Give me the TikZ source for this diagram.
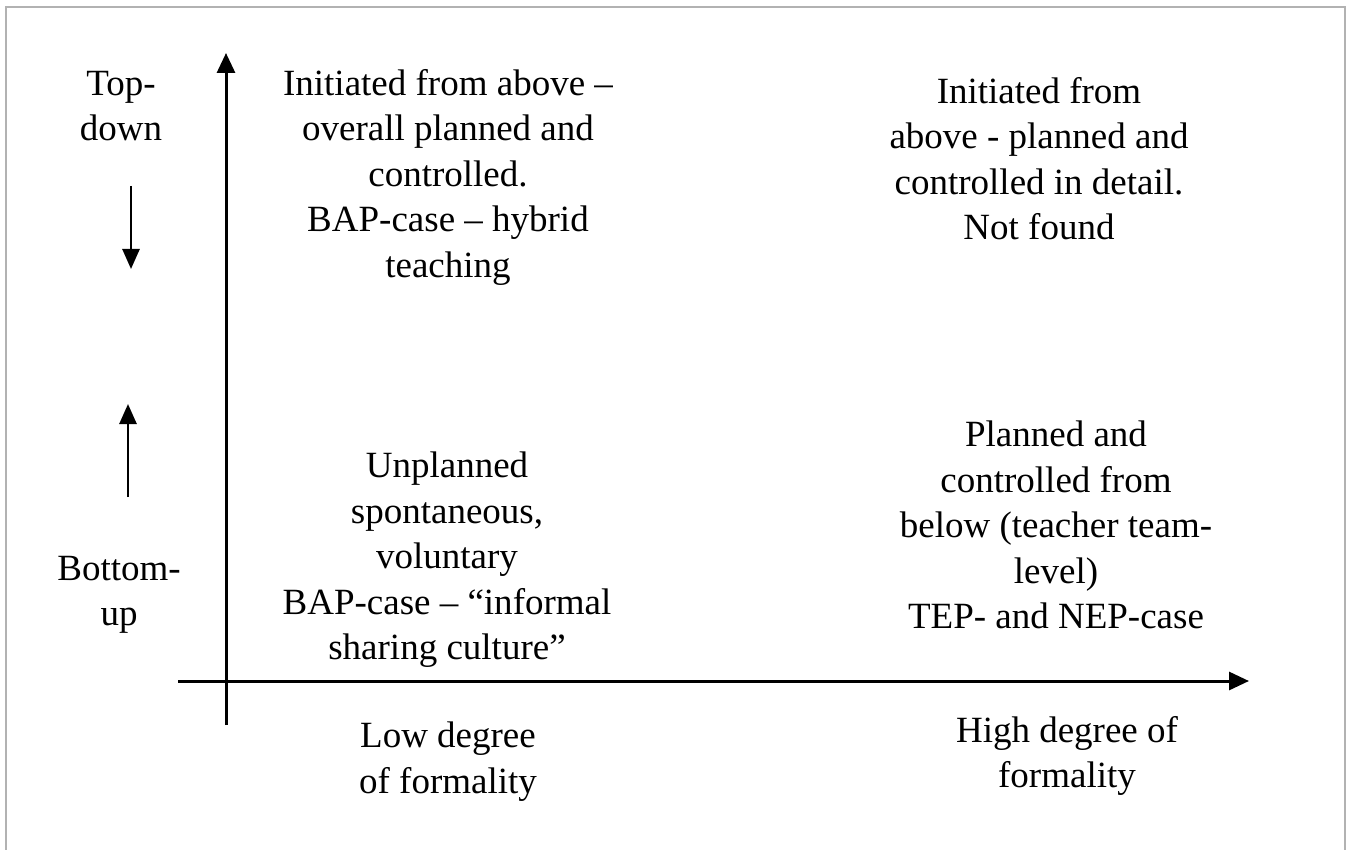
\documentclass[tikz,border=0pt]{standalone}
\usepackage{fontspec}
\setmainfont{Liberation Serif}
\usetikzlibrary{arrows.meta}
\begin{document}
\begin{tikzpicture}[x=1pt,y=-1pt,
  lbl/.style={inner sep=0pt, anchor=north, align=center,
    font=\fontsize{37}{45.5}\selectfont},
  axis/.style={line width=3pt, -{Triangle[width=18pt,length=20pt]}},
  small/.style={line width=2.6pt, -{Triangle[width=17pt,length=20pt]}},
  frame/.style={draw=black!30, line width=1.2pt}]
\useasboundingbox (0,0) rectangle (1351,850);
\draw[frame] (6,860) -- (6,7) -- (1345,7) -- (1345,860);
% axes
\coordinate (vbot) at (226,725);
\coordinate (vtop) at (226,53);
\coordinate (hleft) at (178,681);
\coordinate (hright) at (1249,681);
\draw[axis] (vbot) -- (vtop);
\draw[axis] (hleft) -- (hright);
% small side arrows
\coordinate (tdA) at (131,186);
\coordinate (tdB) at (131,269);
\coordinate (buA) at (128,497);
\coordinate (buB) at (128,404);
\draw[small] (tdA) -- (tdB);
\draw[small] (buA) -- (buB);
% labels
\node[lbl] (topdown) at (121,71) {Top-\\down};
\node[lbl] (bottomup) at (119,556) {Bottom-\\up};
\node[lbl] (tl) at (448,69) {Initiated from above --\\overall planned and\\controlled.\\BAP-case -- hybrid\\teaching};
\node[lbl] (tr) at (1039,77) {Initiated from\\above - planned and\\controlled in detail.\\Not found};
\node[lbl] (bl) at (447,452) {Unplanned\\spontaneous,\\voluntary\\BAP-case -- ``informal\\sharing culture''};
\node[lbl] (br) at (1056,421) {Planned and\\controlled from\\below (teacher team-\\level)\\TEP- and NEP-case};
\node[lbl] (low) at (448,722) {Low degree\\of formality};
\node[lbl] (high) at (1067,716) {High degree of\\formality};
\end{tikzpicture}
\end{document}
